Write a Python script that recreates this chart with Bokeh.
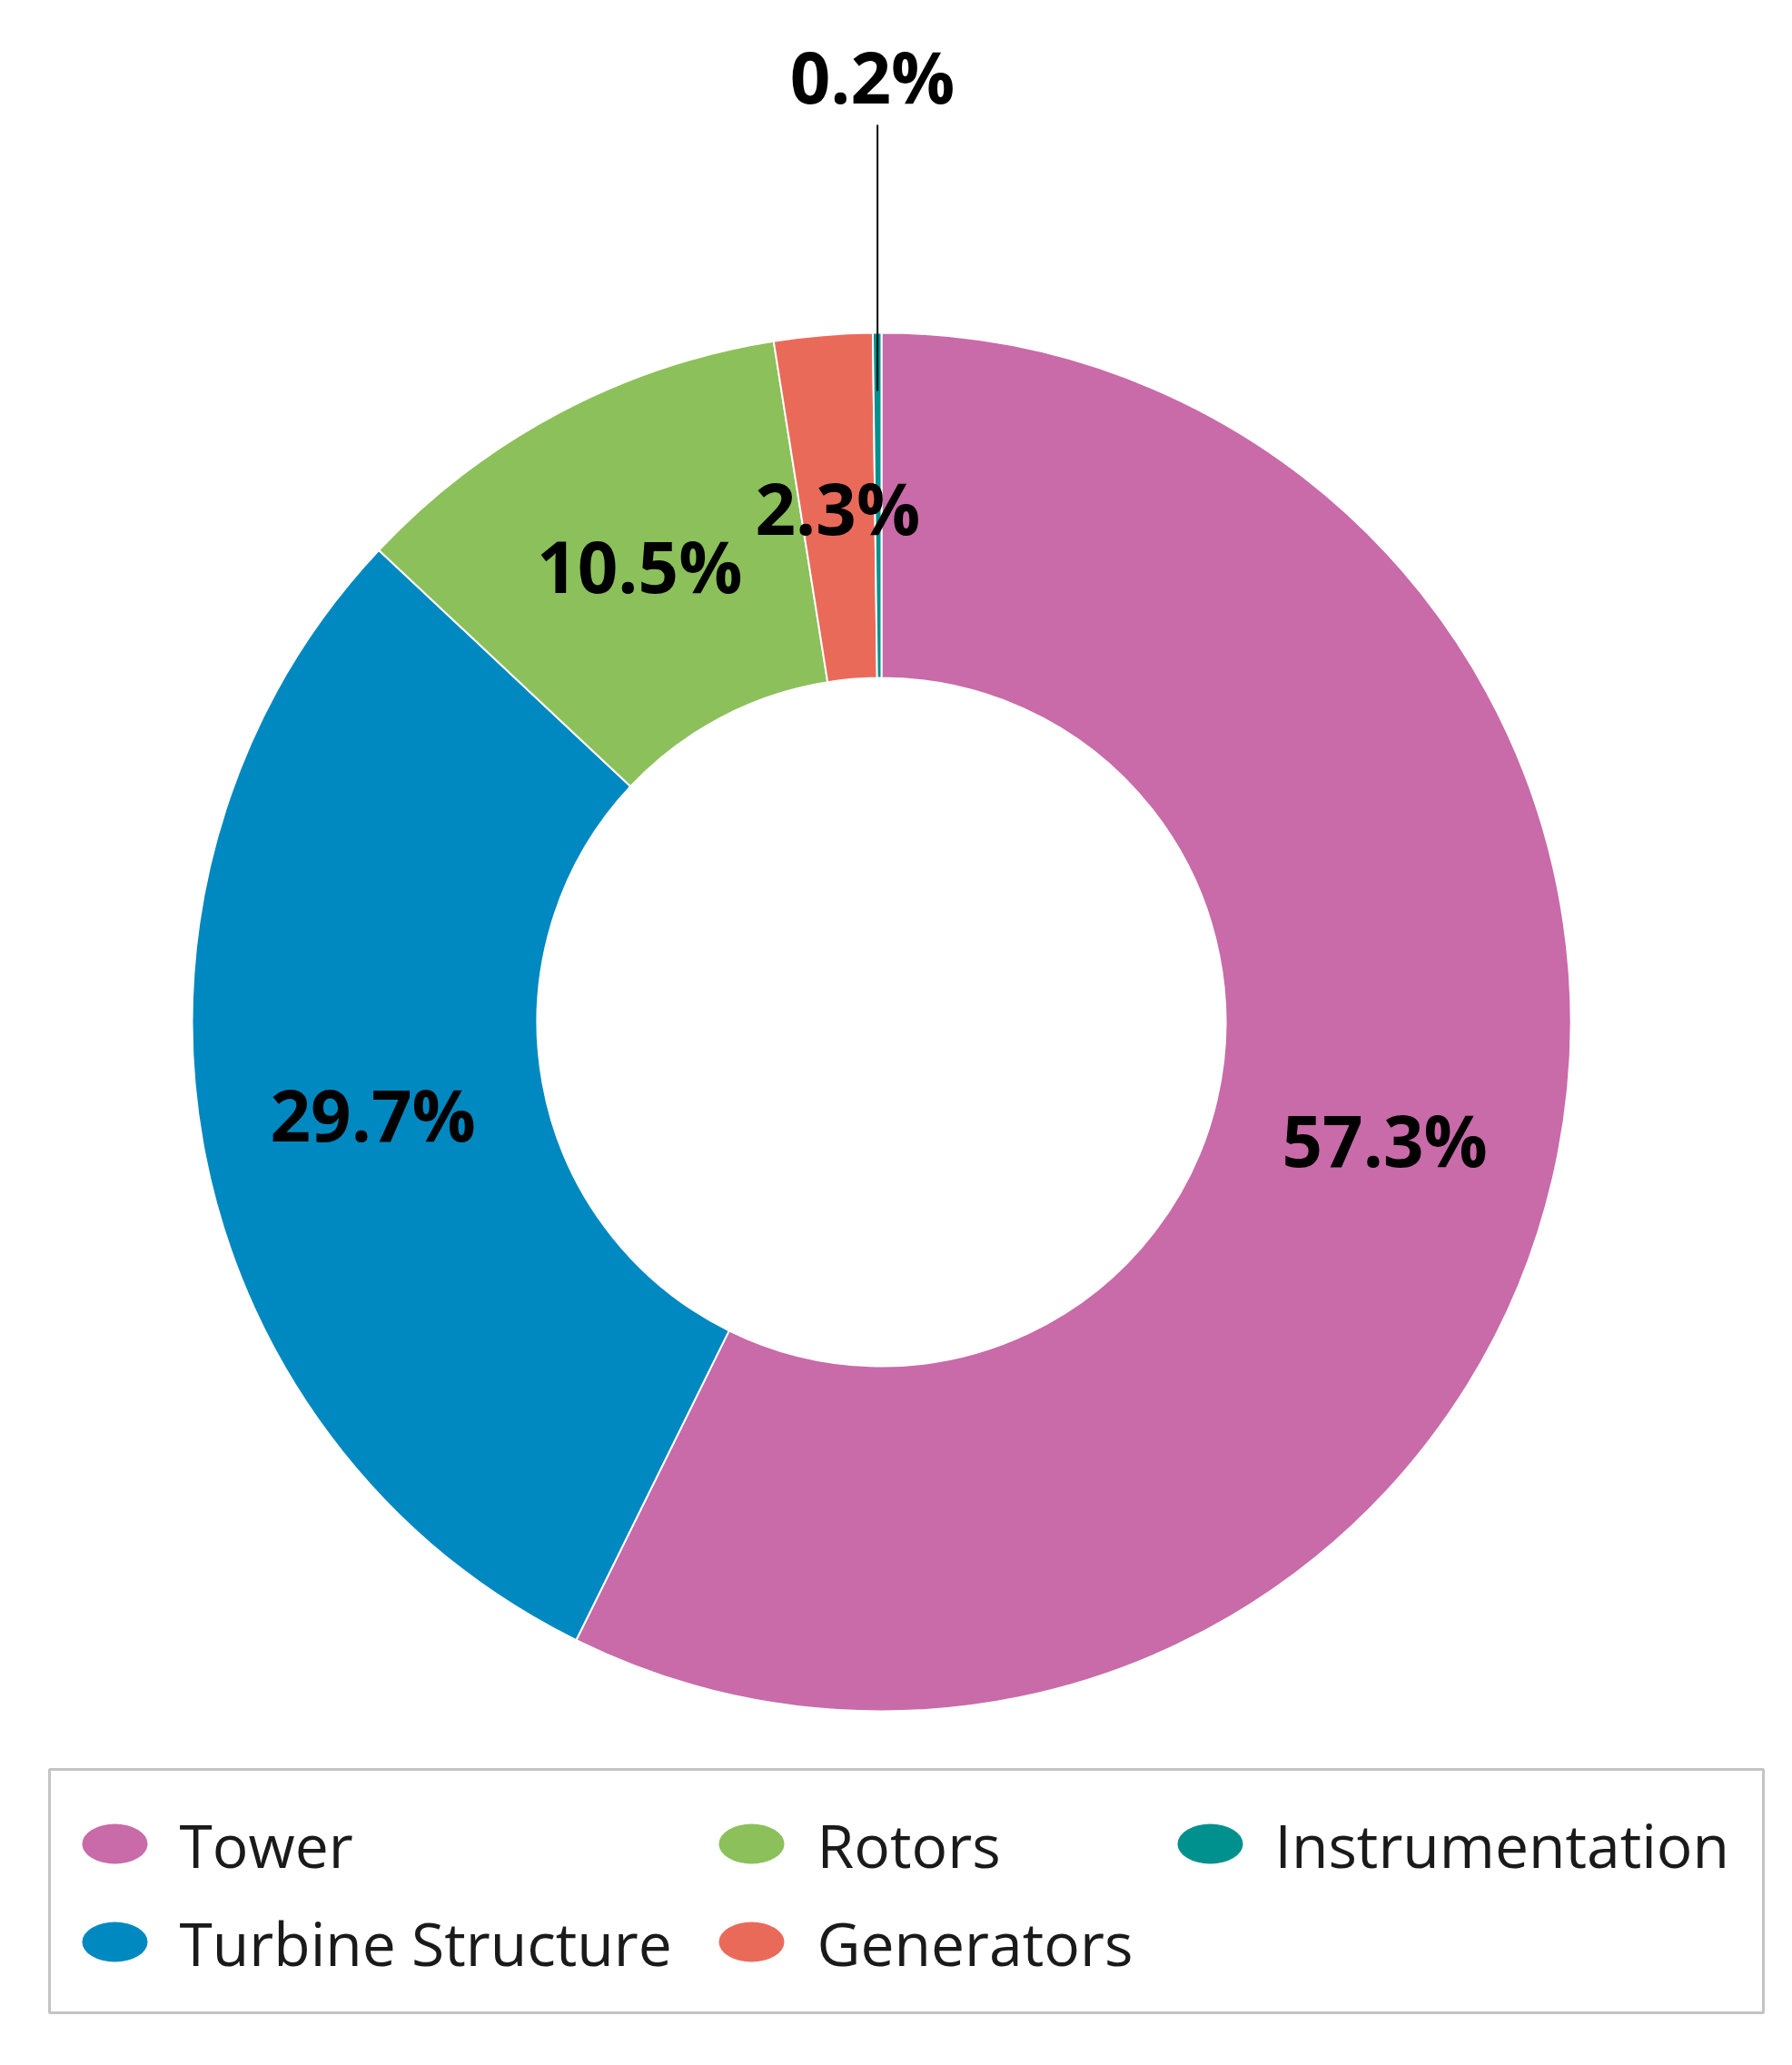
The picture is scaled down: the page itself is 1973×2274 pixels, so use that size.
import numpy as np
from bokeh.plotting import figure
from bokeh.models import Range1d, ColumnDataSource
from bokeh.core.properties import value
from bokeh.embed import file_html
from bokeh.resources import INLINE

# ---- data ----
categories = ["Tower", "Turbine Structure", "Rotors", "Generators", "Instrumentation"]
shares = [57.3, 29.7, 10.5, 2.3, 0.2]
labels = ["57.3%", "29.7%", "10.5%", "2.3%", "0.2%"]
colors = ["#C86BA8", "#0088C0", "#8CC05A", "#EA6A5A", "#00918E"]

# legend layout order (row-major, 3 columns)
legend_order = ["Tower", "Rotors", "Instrumentation", "Turbine Structure", "Generators"]

W, H = 1957, 2258


def fx(x):  # reference page x -> figure data x
    return x


def fy(y):  # reference page y -> figure data y (up)
    return H - y


p = figure(width=W, height=H, output_backend="svg", toolbar_location=None,
           x_range=Range1d(0, W), y_range=Range1d(0, H), min_border=0)
p.axis.visible = False
p.grid.visible = False
p.outline_line_color = None
p.background_fill_color = "white"
p.border_fill_color = "white"

cx, cy = fx(970), fy(1125)
r_out, r_in = 759, 379

frac = np.array(shares) / sum(shares)
cum = np.concatenate([[0], np.cumsum(frac)])
start = np.pi / 2 - cum[1:] * 2 * np.pi
end = np.pi / 2 - cum[:-1] * 2 * np.pi
mid = (start + end) / 2

src = ColumnDataSource(dict(start=start, end=end, color=colors, cat=categories))
p.annular_wedge(x=cx, y=cy, inner_radius=r_in, outer_radius=r_out,
                start_angle="start", end_angle="end", direction="anticlock",
                fill_color="color", line_color="white", line_width=2, source=src)

# slice labels
r_mid = (r_in + r_out) / 2
lx = list(cx + r_mid * np.cos(mid[:4]))
ly = list(cy + r_mid * np.sin(mid[:4]))
# small slice: label outside with leader line
lx.append(fx(960))
ly.append(fy(83))
p.text(x=lx, y=ly, text=labels, text_font=value("Open Sans"),
       text_font_style="bold", text_font_size="78px", text_align="center",
       text_baseline="middle", text_color="black")
lead_x = cx + 695 * np.cos(mid[4])
p.line(x=[lead_x, lead_x], y=[cy + 695 * np.sin(mid[4]), fy(137)],
       line_color="black", line_width=2)

# legend box
p.rect(x=(fx(54) + fx(1941)) / 2, y=(fy(1948) + fy(2216)) / 2,
       width=fx(1941) - fx(54), height=fy(1948) - fy(2216),
       fill_color="white", line_color="#C4C4C4", line_width=3)

col_marker_x = [fx(126), fx(827), fx(1332)]
col_text_x = [fx(197), fx(899), fx(1403)]
row_y = [fy(2030), fy(2138)]
mx, my, tx, ty, mc = [], [], [], [], []
for i, name in enumerate(legend_order):
    r, c = divmod(i, 3)
    mx.append(col_marker_x[c])
    my.append(row_y[r])
    tx.append(col_text_x[c])
    ty.append(row_y[r])
    mc.append(colors[categories.index(name)])
p.ellipse(x=mx, y=my, width=72, height=44, fill_color=mc, line_color=None)
p.text(x=tx, y=ty, text=legend_order, text_font=value("Open Sans"),
       text_font_size="66px", text_align="left", text_baseline="middle",
       text_color="#1A1A1A")

open("out.html", "w").write(file_html(p, INLINE))
